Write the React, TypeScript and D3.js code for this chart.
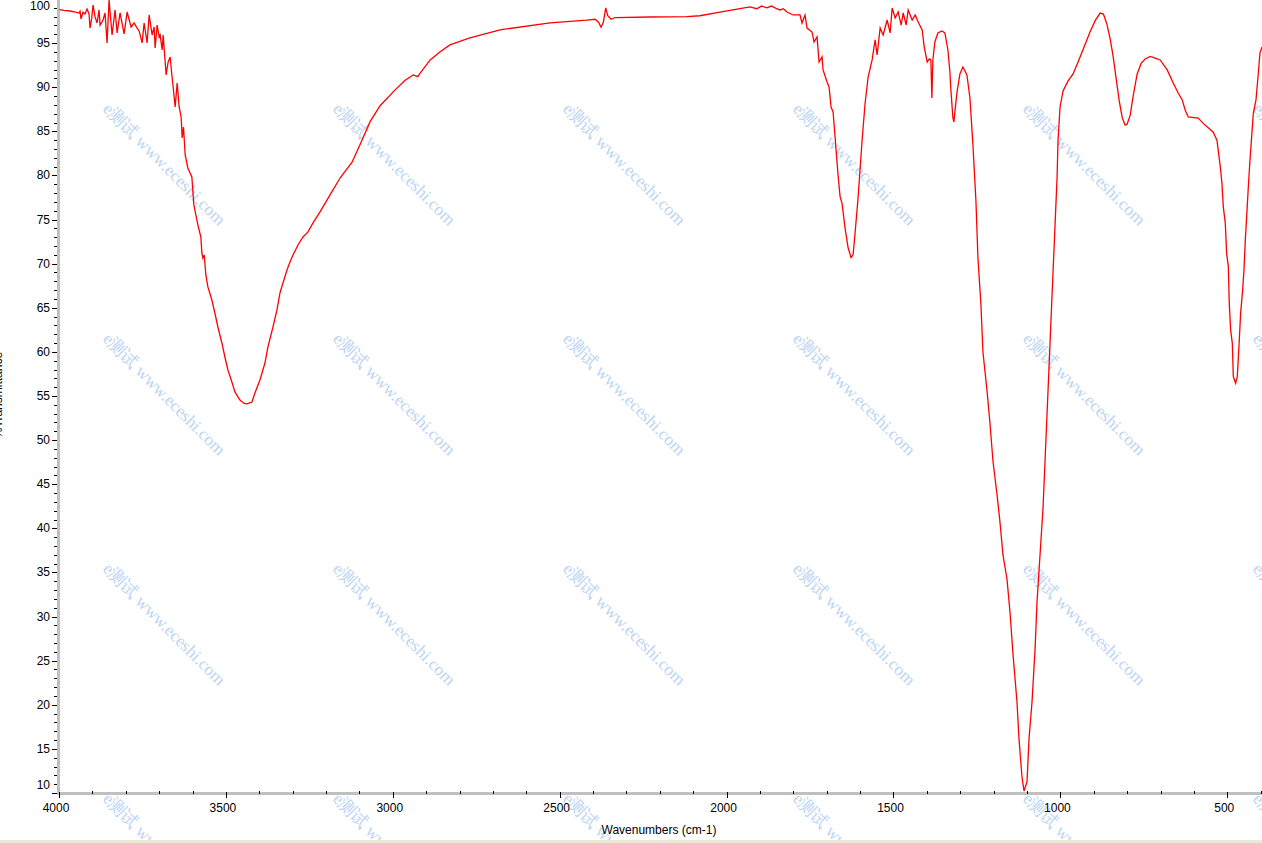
import * as d3 from 'd3';

// IR spectrum (cm-1 / %T)
const wavenumbers = [
  3999, 3985, 3967, 3950, 3940, 3937, 3934, 3928, 3922, 3916, 3910, 3907, 3902, 3898, 3892, 3886,
  3880, 3877, 3868, 3862, 3856, 3850, 3841, 3832, 3826, 3817, 3805, 3796, 3784, 3775, 3766, 3760,
  3751, 3745, 3736, 3730, 3721, 3715, 3712, 3706, 3700, 3697, 3691, 3688, 3679, 3673, 3667, 3661,
  3658, 3652, 3646, 3640, 3634, 3631, 3627, 3622, 3614, 3602, 3596, 3590, 3584, 3575, 3572, 3569,
  3565, 3560, 3554, 3542, 3533, 3524, 3512, 3503, 3494, 3482, 3473, 3458, 3445, 3437, 3422, 3413,
  3398, 3383, 3374, 3359, 3347, 3338, 3329, 3317, 3308, 3299, 3284, 3269, 3254, 3239, 3218, 3188,
  3158, 3122, 3098, 3068, 3038, 2993, 2963, 2939, 2925, 2918, 2888, 2859, 2829, 2769, 2679, 2529,
  2420, 2394, 2384, 2376, 2369, 2362, 2356, 2346, 2334, 2229, 2120, 2080, 2020, 1960, 1930, 1910,
  1895, 1880, 1865, 1850, 1840, 1830, 1819, 1801, 1780, 1774, 1765, 1759, 1744, 1738, 1729, 1723,
  1714, 1711, 1699, 1693, 1687, 1681, 1675, 1666, 1660, 1654, 1645, 1636, 1627, 1621, 1615, 1606,
  1594, 1585, 1576, 1564, 1555, 1549, 1540, 1531, 1519, 1510, 1504, 1495, 1486, 1477, 1471, 1462,
  1456, 1444, 1435, 1426, 1414, 1408, 1399, 1393, 1388, 1385, 1382, 1376, 1367, 1355, 1346, 1337,
  1331, 1328, 1322, 1319, 1316, 1310, 1301, 1292, 1280, 1271, 1262, 1253, 1247, 1238, 1232, 1220,
  1211, 1202, 1190, 1181, 1172, 1160, 1151, 1142, 1130, 1124, 1115, 1109, 1100, 1094, 1085, 1076,
  1070, 1061, 1052, 1046, 1040, 1034, 1028, 1022, 1016, 1010, 1007, 1001, 992, 977, 962, 947,
  935, 911, 895, 881, 871, 861, 851, 842, 833, 824, 815, 806, 800, 791, 782, 770,
  758, 746, 731, 716, 701, 680, 662, 647, 635, 626, 617, 587, 572, 557, 542, 531,
  521, 516, 512, 506, 502, 497, 494, 490, 485, 482, 475, 470, 464, 460, 454, 450,
  446, 442, 437, 432, 427, 422, 414, 408, 402, 396,
];

const transmittance = [
  98.8, 98.7, 98.64, 98.5, 98.4, 98.6, 97.74, 98.5, 98.3, 98.87, 98.3, 96.71, 97.8, 99.32, 98.0, 97.28,
  98.76, 97.05, 97.62, 98.42, 95.02, 99.89, 95.92, 98.76, 96.15, 98.42, 96.04, 98.53, 96.83, 97.28, 96.71, 96.38,
  95.02, 97.28, 95.02, 98.19, 95.92, 96.83, 94.45, 97.05, 95.7, 95.92, 94.22, 95.92, 91.39, 92.86, 93.43, 91.05,
  90.03, 87.76, 90.48, 87.76, 86.6, 84.25, 85.49, 82.32, 80.85, 79.83, 76.66, 75.53, 74.4, 73.02, 71.21, 70.64,
  70.98, 68.72, 67.36, 65.88, 64.41, 62.82, 61.01, 59.42, 57.95, 56.59, 55.46, 54.55, 54.15, 54.1, 54.32, 55.34,
  56.81, 58.74, 60.56, 62.82, 64.75, 66.68, 67.81, 69.28, 70.19, 70.98, 72.12, 73.02, 73.6, 74.62, 75.87, 77.79,
  79.71, 81.5, 83.5, 86.1, 87.9, 89.7, 90.8, 91.4, 91.2, 91.6, 93.1, 94.0, 94.8, 95.6, 96.5, 97.3,
  97.6, 97.7, 97.4, 96.8, 97.4, 99.0, 98.1, 97.7, 97.9, 97.96, 98.0, 98.1, 98.5, 98.9, 99.1, 98.9,
  99.2, 99.0, 99.2, 98.9, 98.76, 98.9, 98.53, 98.19, 98.19, 97.28, 98.19, 96.71, 96.26, 95.13, 95.7, 92.86,
  93.43, 91.96, 90.59, 90.03, 87.76, 87.19, 84.36, 80.0, 77.6, 76.8, 74.0, 71.8, 70.7, 71.0, 73.5, 77.5,
  84.02, 88.21, 91.16, 93.09, 95.36, 93.66, 96.71, 95.92, 97.62, 96.15, 98.98, 97.85, 98.53, 97.05, 98.42, 97.05,
  98.76, 97.62, 98.19, 97.4, 96.49, 94.56, 92.86, 93.2, 93.09, 88.79, 93.09, 95.13, 96.15, 96.38, 96.15, 94.22,
  91.73, 89.69, 86.51, 86.06, 87.19, 89.35, 91.5, 92.3, 91.4, 88.79, 83.45, 77.11, 70.64, 65.32, 59.99, 55.68,
  51.94, 47.63, 43.89, 40.72, 36.98, 34.26, 30.52, 25.76, 20.32, 16.12, 11.81, 10.23, 11.25, 16.12, 20.32, 26.21,
  31.65, 36.98, 42.31, 47.63, 52.97, 58.29, 63.73, 69.06, 74.4, 79.71, 84.02, 87.76, 89.58, 90.71, 91.5, 92.86,
  94.0, 96.3, 97.6, 98.4, 98.3, 97.2, 95.5, 93.5, 91.0, 88.5, 86.6, 85.7, 85.8, 86.8, 89.0, 91.5,
  92.7, 93.2, 93.5, 93.3, 93.09, 91.96, 90.48, 89.35, 88.56, 87.4, 86.63, 86.5, 85.9, 85.4, 84.9, 84.0,
  81.0, 79.1, 76.46, 74.6, 71.2, 69.7, 65.5, 62.5, 61.0, 57.2, 56.45, 57.2, 61.35, 64.4, 67.0, 69.3,
  72.7, 75.3, 78.7, 81.75, 84.4, 87.05, 88.56, 91.16, 93.9, 94.56,
];

const xMajorTicks = [4000, 3500, 3000, 2500, 2000, 1500, 1000, 500];
const yMajorTicks = [10, 15, 20, 25, 30, 35, 40, 45, 50, 55, 60, 65, 70, 75, 80, 85, 90, 95, 100];
const xTitle = 'Wavenumbers (cm-1)';
const yTitle = '%Transmittance';
const watermark = 'e测试 www.eceshi.com';

export default function App() {
  const width = 1262;
  const height = 843;
  const left = 59;
  const bottom = 793;

  const x = d3.scaleLinear().domain([4000, 396]).range([left, width]);
  const y = d3.scaleLinear().domain([10, 100]).range([bottom, -1]);

  const points: [number, number][] = wavenumbers.map((w, i) => [w, transmittance[i]]);
  const line = d3.line<[number, number]>()
    .x(d => x(d[0]))
    .y(d => y(d[1]));

  const xMinor = d3.range(4000, 395, -100).filter(v => v % 500 !== 0);
  const yMinor = d3.range(10, 101, 1).filter(v => v % 5 !== 0);

  const font = '"Liberation Sans", Arial, sans-serif';

  // watermark grid
  const wmX = d3.range(0, 6).map(i => 102 + i * 230);
  const wmY = d3.range(0, 4).map(j => 110 + j * 230);

  return (
    <svg width={width} height={height} style={{ position: 'absolute', left: 0, top: 0, background: '#fff' }}>
      <rect x={0} y={0} width={width} height={height} fill="#fff" />

      {wmY.map(wy => wmX.map(wx => (
        <text key={`${wx}-${wy}`} transform={`translate(${wx},${wy}) rotate(45)`}
          fontFamily='"Liberation Serif", "Times New Roman", serif' fontSize={17.4}
          fill="#bcd4f3">{watermark}</text>
      )))}

      {/* axis lines */}
      <rect x={left - 2} y={0} width={3} height={bottom + 2} fill="#c0c0c0" />
      <rect x={left - 2} y={bottom - 1} width={width - left + 2} height={3} fill="#c0c0c0" />

      {/* y ticks */}
      {yMinor.map(v => (
        <line key={`ym${v}`} x1={left - 5} x2={left - 2} y1={Math.round(y(v)) + 0.5} y2={Math.round(y(v)) + 0.5} stroke="#000" />
      ))}
      {yMajorTicks.map(v => (
        <line key={`yM${v}`} x1={left - 7} x2={left - 2} y1={Math.round(y(v)) + 0.5} y2={Math.round(y(v)) + 0.5} stroke="#000" />
      ))}
      {yMajorTicks.map(v => (
        <text key={`yl${v}`} x={50} y={Math.max(6, Math.min(785, y(v)))} textAnchor="end"
          dominantBaseline="central" fontFamily={font} fontSize={12} fill="#000">{v}</text>
      ))}

      {/* x ticks */}
      {xMinor.map(v => (
        <line key={`xm${v}`} x1={Math.round(x(v)) + 0.5} x2={Math.round(x(v)) + 0.5} y1={bottom - 2} y2={bottom + 1} stroke="#000" />
      ))}
      {xMajorTicks.map(v => (
        <line key={`xM${v}`} x1={Math.round(x(v)) + 0.5} x2={Math.round(x(v)) + 0.5} y1={bottom - 1} y2={bottom + 5} stroke="#000" />
      ))}
      {xMajorTicks.map(v => (
        <text key={`xl${v}`} x={x(v) - 3} y={812} textAnchor="middle"
          fontFamily={font} fontSize={12} fill="#000">{v}</text>
      ))}

      <text x={659} y={834} textAnchor="middle" fontFamily={font} fontSize={12} fill="#000">{xTitle}</text>
      <text transform="translate(1.5,395) rotate(-90)" textAnchor="middle" fontFamily={font} fontSize={12} fill="#000">{yTitle}</text>

      {/* spectrum */}
      <path d={line(points) ?? ''} fill="none" stroke="#ff0000" strokeWidth={1.3} />

      <rect x={0} y={840} width={width} height={3} fill="#ece9d8" />
    </svg>
  );
}
